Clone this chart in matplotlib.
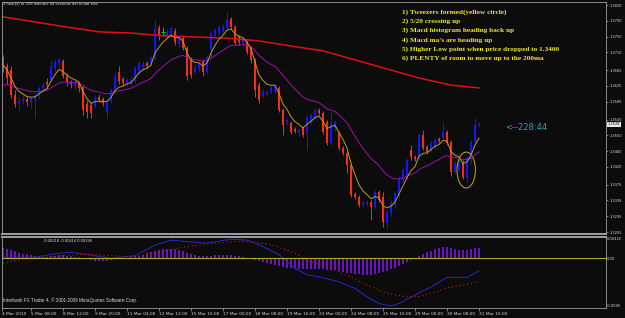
import matplotlib
matplotlib.use("Agg")
import matplotlib.pyplot as plt
from matplotlib.patches import Ellipse
import numpy as np
import pandas as pd

# H4 candles, 4 Mar - 31 Mar 2010
opens = [1.3696, 1.3676, 1.3665, 1.3602, 1.3579, 1.3587, 1.3592, 1.3584, 1.3589, 1.3599,
         1.3620, 1.3635, 1.3640, 1.3670, 1.3683, 1.3688, 1.3650, 1.3635, 1.3625, 1.3632,
         1.3622, 1.3579, 1.3577, 1.3574, 1.3597, 1.3592, 1.3559, 1.3587, 1.3610, 1.3660,
         1.3643, 1.3630, 1.3630, 1.3637, 1.3663, 1.3673, 1.3683, 1.3683, 1.3696, 1.3772,
         1.3762, 1.3754, 1.3757, 1.3764, 1.3731, 1.3746, 1.3721, 1.3691, 1.3660, 1.3668,
         1.3688, 1.3660, 1.3716, 1.3752, 1.3759, 1.3764, 1.3772, 1.3795, 1.3774, 1.3749,
         1.3734, 1.3736, 1.3721, 1.3691, 1.3627, 1.3599, 1.3605, 1.3610, 1.3612, 1.3620,
         1.3564, 1.3531, 1.3531, 1.3516, 1.3506, 1.3518, 1.3506, 1.3534, 1.3546, 1.3564,
         1.3556, 1.3534, 1.3481, 1.3518, 1.3506, 1.3468, 1.3455, 1.3425, 1.3351, 1.3344,
         1.3323, 1.3326, 1.3331, 1.3318, 1.3356, 1.3344, 1.3278, 1.3303, 1.3323, 1.3349,
         1.3387, 1.3392, 1.3463, 1.3445, 1.3445, 1.3501, 1.3470, 1.3463, 1.3470, 1.3491,
         1.3493, 1.3508, 1.3483, 1.3407, 1.3412, 1.3432, 1.3392, 1.3437, 1.3483, 1.3526]
highs = [1.3703, 1.3683, 1.3676, 1.3615, 1.3599, 1.3602, 1.3597, 1.3599, 1.3607, 1.3625,
         1.3635, 1.3645, 1.3691, 1.3693, 1.3698, 1.3693, 1.3658, 1.3640, 1.3640, 1.3637,
         1.3627, 1.3589, 1.3584, 1.3602, 1.3605, 1.3597, 1.3592, 1.3620, 1.3660, 1.3676,
         1.3648, 1.3645, 1.3648, 1.3676, 1.3691, 1.3688, 1.3688, 1.3703, 1.3792, 1.3779,
         1.3774, 1.3769, 1.3777, 1.3772, 1.3754, 1.3752, 1.3726, 1.3698, 1.3681, 1.3686,
         1.3693, 1.3703, 1.3764, 1.3772, 1.3779, 1.3782, 1.3812, 1.3800, 1.3779, 1.3754,
         1.3746, 1.3741, 1.3726, 1.3696, 1.3635, 1.3617, 1.3615, 1.3627, 1.3632, 1.3625,
         1.3569, 1.3544, 1.3536, 1.3521, 1.3518, 1.3524, 1.3551, 1.3556, 1.3569, 1.3569,
         1.3562, 1.3539, 1.3559, 1.3539, 1.3511, 1.3473, 1.3460, 1.3430, 1.3356, 1.3349,
         1.3334, 1.3336, 1.3336, 1.3361, 1.3361, 1.3356, 1.3311, 1.3336, 1.3359, 1.3397,
         1.3417, 1.3442, 1.3475, 1.3450, 1.3506, 1.3513, 1.3475, 1.3486, 1.3493, 1.3496,
         1.3534, 1.3513, 1.3488, 1.3435, 1.3442, 1.3437, 1.3448, 1.3488, 1.3544, 1.3534]
lows = [1.3660, 1.3630, 1.3594, 1.3572, 1.3564, 1.3579, 1.3574, 1.3569, 1.3544, 1.3592,
        1.3610, 1.3620, 1.3635, 1.3660, 1.3673, 1.3645, 1.3625, 1.3620, 1.3617, 1.3610,
        1.3551, 1.3544, 1.3544, 1.3569, 1.3584, 1.3574, 1.3544, 1.3582, 1.3605, 1.3630,
        1.3625, 1.3625, 1.3622, 1.3632, 1.3655, 1.3665, 1.3670, 1.3676, 1.3691, 1.3741,
        1.3752, 1.3746, 1.3749, 1.3729, 1.3724, 1.3716, 1.3640, 1.3645, 1.3655, 1.3660,
        1.3650, 1.3655, 1.3696, 1.3746, 1.3754, 1.3759, 1.3767, 1.3769, 1.3729, 1.3729,
        1.3729, 1.3706, 1.3683, 1.3597, 1.3582, 1.3594, 1.3599, 1.3605, 1.3607, 1.3559,
        1.3501, 1.3526, 1.3503, 1.3506, 1.3498, 1.3496, 1.3463, 1.3529, 1.3541, 1.3551,
        1.3503, 1.3475, 1.3475, 1.3511, 1.3463, 1.3450, 1.3404, 1.3344, 1.3339, 1.3318,
        1.3318, 1.3321, 1.3285, 1.3313, 1.3331, 1.3268, 1.3263, 1.3296, 1.3316, 1.3341,
        1.3382, 1.3387, 1.3437, 1.3435, 1.3437, 1.3463, 1.3452, 1.3458, 1.3465, 1.3481,
        1.3488, 1.3475, 1.3397, 1.3402, 1.3407, 1.3389, 1.3382, 1.3430, 1.3478, 1.3524]
closes = [1.3676, 1.3645, 1.3602, 1.3579, 1.3587, 1.3592, 1.3584, 1.3594, 1.3599, 1.3620,
          1.3627, 1.3630, 1.3676, 1.3686, 1.3693, 1.3650, 1.3635, 1.3630, 1.3632, 1.3620,
          1.3564, 1.3559, 1.3556, 1.3594, 1.3589, 1.3582, 1.3587, 1.3615, 1.3650, 1.3637,
          1.3632, 1.3640, 1.3640, 1.3670, 1.3683, 1.3683, 1.3676, 1.3696, 1.3769, 1.3752,
          1.3762, 1.3762, 1.3772, 1.3736, 1.3746, 1.3721, 1.3650, 1.3653, 1.3673, 1.3681,
          1.3660, 1.3698, 1.3759, 1.3767, 1.3774, 1.3774, 1.3792, 1.3774, 1.3734, 1.3736,
          1.3741, 1.3711, 1.3691, 1.3615, 1.3589, 1.3610, 1.3610, 1.3622, 1.3627, 1.3564,
          1.3526, 1.3539, 1.3508, 1.3511, 1.3513, 1.3501, 1.3546, 1.3551, 1.3564, 1.3556,
          1.3508, 1.3481, 1.3531, 1.3534, 1.3468, 1.3455, 1.3425, 1.3349, 1.3344, 1.3323,
          1.3328, 1.3331, 1.3318, 1.3356, 1.3336, 1.3280, 1.3306, 1.3328, 1.3354, 1.3392,
          1.3412, 1.3437, 1.3445, 1.3440, 1.3501, 1.3468, 1.3458, 1.3481, 1.3488, 1.3486,
          1.3508, 1.3481, 1.3407, 1.3430, 1.3437, 1.3394, 1.3442, 1.3483, 1.3526, 1.3528]

# 200 MA at a few bars
ma200_bars = [0, 8, 16, 24, 32, 40, 48, 56, 64, 72, 80, 88, 96, 104, 112, 119]
ma200_vals = [1.3800, 1.3787, 1.3774, 1.3762, 1.3759, 1.3752, 1.3749, 1.3746,
              1.3739, 1.3726, 1.3714, 1.3691, 1.3668, 1.3645, 1.3627, 1.3620]
ma5_start = 1.3678
ma20_start = 1.3622

# MACD panel
hist = [20, 19, 17, 14, 11, 9, 8, 6, 4, 3, 3, 3, 4, 5, 6, 6, 5, 4, 3, 2,
        0, -2, -4, -5, -6, -6, -5, -4, -2, 0, 1, 1, 2, 4, 5, 7, 10, 12, 14, 16,
        18, 19, 19, 18, 16, 14, 11, 8, 6, 5, 4, 4, 5, 6, 7, 7, 7, 6, 5, 4,
        2, 1, 0, -3, -6, -8, -10, -12, -14, -16, -18, -19, -20, -21, -22, -22, -22, -21, -21, -21,
        -22, -23, -24, -24, -25, -27, -29, -30, -31, -32, -33, -33, -33, -31, -29, -27, -25, -22, -19, -15,
        -11, -7, -3, 1, 5, 9, 12, 15, 18, 20, 22, 22, 20, 18, 17, 17, 17, 19, 20, 21]
macd_bars = [0, 8, 14, 17, 22, 27, 33, 38, 42, 46, 51, 57, 61, 64, 69, 73, 76, 79, 84,
             88, 91, 94, 97, 99, 103, 108, 111, 116, 119]
macd_vals = [0.0002, 0.0002, 0.0010, 0.0012, 0.0006, 0.0000, 0.0005, 0.0026, 0.0036, 0.0033,
             0.0030, 0.0038, 0.0036, 0.0027, 0.0007, -0.0020, -0.0033, -0.0037, -0.0047,
             -0.0060, -0.0077, -0.0090, -0.0095, -0.0090, -0.0073, -0.0053, -0.0038, -0.0038, -0.0025]
signal_bars = [0, 5, 12, 20, 27, 33, 38, 43, 50, 58, 62, 67, 73, 76, 79, 84, 91, 96, 101,
               104, 108, 111, 116, 119]
signal_vals = [-0.0010, -0.0002, 0.0003, 0.0008, 0.0005, 0.0003, 0.0010, 0.0019, 0.0028,
               0.0033, 0.0033, 0.0027, 0.0010, -0.0005, -0.0012, -0.0027, -0.0053, -0.0070,
               -0.0077, -0.0076, -0.0067, -0.0059, -0.0052, -0.0047]

price_ticks = [1.3830, 1.3790, 1.3750, 1.3710, 1.3665, 1.3625, 1.3585, 1.3540,
               1.3500, 1.3460, 1.3420, 1.3375, 1.3335, 1.3295, 1.3255]
date_labels = ["4 Mar 2010", "5 Mar 08:00", "8 Mar 12:00", "9 Mar 20:00", "11 Mar 04:00",
               "12 Mar 12:00", "15 Mar 16:00", "17 Mar 00:00", "18 Mar 08:00", "19 Mar 16:00",
               "23 Mar 00:00", "24 Mar 08:00", "25 Mar 16:00", "29 Mar 00:00", "30 Mar 08:00",
               "31 Mar 16:00"]
notes = ["1) Tweezers formed(yellow circle)",
         "2) 5/20 crossing up",
         "3) Macd histogram heading back up",
         "4) Macd ma's are heading up",
         "5) Higher Low point when price dropped to 1.3400",
         "6) PLENTY of room to move up to the 200ma"]

BG = "#0b0c0b"
GRID = "#a0a0a0"
TXT = "#d8d8d8"
W, H = 625, 318

o = np.array(opens); h = np.array(highs); l = np.array(lows); c = np.array(closes)
x = np.arange(len(c))

ma5 = pd.Series([ma5_start] + closes).ewm(span=5, adjust=False).mean().values[1:]
ma20 = pd.Series([ma20_start] + closes).ewm(span=20, adjust=False).mean().values[1:]

fig = plt.figure(figsize=(W / 100, H / 100), dpi=100, facecolor=BG)
ax = fig.add_axes([2 / W, 1 - 234 / H, 604 / W, 232 / H], facecolor=BG)
ax2 = fig.add_axes([2 / W, 1 - 308 / H, 604 / W, 71 / H], facecolor=BG)

up = c > o
down = c < o
doji = c == o
ax.vlines(x[up], l[up], h[up], color="#1414ff", lw=0.7)
ax.vlines(x[down], l[down], h[down], color="#ff2a10", lw=0.7)
ax.vlines(x[doji], l[doji], h[doji], color="#10c010", lw=0.7)
ax.bar(x[up], (c - o)[up], bottom=o[up], width=0.72, color="#1414ff", lw=0)
ax.bar(x[down], (c - o)[down], bottom=o[down], width=0.72, color="#ff2a10", lw=0)
ax.hlines(c[doji], x[doji] - 0.4, x[doji] + 0.4, color="#10c010", lw=0.7)

ax.plot(ma200_bars, ma200_vals, color="#e01010", lw=1.1)
ax.plot(x, ma20, color="#a010a8", lw=0.7)
ax.plot(x, ma5, color="#b8a020", lw=0.7)

ax.add_patch(Ellipse((115.8, 1.3412), 4.6, 0.0091, fill=False, ec="#c0b010", lw=0.7))

ax.set_xlim(-0.25, 150.75)
ax.set_ylim(1.32500, 1.38376)
ax.yaxis.tick_right()
ax.set_yticks(price_ticks)
ax.set_yticklabels([f"{v:.4f}" for v in price_ticks])
ax.tick_params(axis="y", colors=GRID, labelcolor=TXT, labelsize=2.6, length=1.5, width=0.5, pad=1)
ax.set_xticks([])
ax.text(1.003, 1.3528, "1.3528", transform=ax.get_yaxis_transform(), fontsize=2.6,
        color="#101010", va="center", ha="left",
        bbox=dict(boxstyle="square,pad=0.15", fc="#e8e8e8", ec="none"))

# MACD
ax2.bar(x, np.array(hist) * 1e-4, width=0.45, color="#6a14c0", lw=0)
ax2.plot(macd_bars, macd_vals, color="#2828c8", lw=0.7)
ax2.plot(signal_bars, signal_vals, color="#d01010", lw=0.8, ls=(0, (1, 2.5)))
ax2.axhline(0, color="#b0a820", lw=0.8)
ax2.set_xlim(-0.25, 150.75)
ax2.set_ylim(-0.0099, 0.0042)
ax2.yaxis.tick_right()
ax2.set_yticks([0.00422, 0.0, -0.0095])
ax2.set_yticklabels(["0.00422", "0.00", "-0.0095"])
ax2.tick_params(axis="y", colors=GRID, labelcolor=TXT, labelsize=2.6, length=0, width=0.5, pad=0.8)
ax2.get_yticklabels()[0].set_va("top")
tick_pos = [-0.25] + [8 * k - 1 for k in range(1, len(date_labels))]
ax2.set_xticks(tick_pos)
ax2.set_xticklabels(date_labels)
ax2.tick_params(axis="x", colors=GRID, labelcolor=TXT, labelsize=3.1, length=2, width=0.5, pad=1)
for lbl in ax2.get_xticklabels():
    lbl.set_ha("left")

for a in (ax, ax2):
    for s in a.spines.values():
        s.set_color(GRID)
        s.set_linewidth(0.6)
ax.spines["bottom"].set_linewidth(1.4)
ax2.spines["top"].set_linewidth(1.4)

# texts
fig.text(3 / W, 1 - 4.5 / H, "3 hour(s) or 228 minutes 44 seconds left to bar end",
         fontsize=3.1, color=TXT, family="Liberation Sans", va="center")
for i, n in enumerate(notes):
    fig.text(402 / W, 1 - (12 + 9.3 * i) / H, n, fontsize=5.2, color="#e8e830",
             family="Liberation Serif", weight="bold", va="center")
fig.text(505 / W, 1 - 128 / H, "<--228:44", fontsize=6, color="#30a0b0",
         family="DejaVu Sans", va="center")
fig.text(43 / W, 1 - 240.5 / H, "-0.00218 -0.00414 0.00196", fontsize=3.0, color=TXT,
         family="Liberation Sans", va="center")
fig.text(3 / W, 1 - 300 / H, "Interbank FX Trader 4, \u00a9 2001-2009 MetaQuotes Software Corp.",
         fontsize=3.3, color=TXT, family="Liberation Sans", va="center")

fig.savefig("out.png", dpi=100, facecolor=BG)
